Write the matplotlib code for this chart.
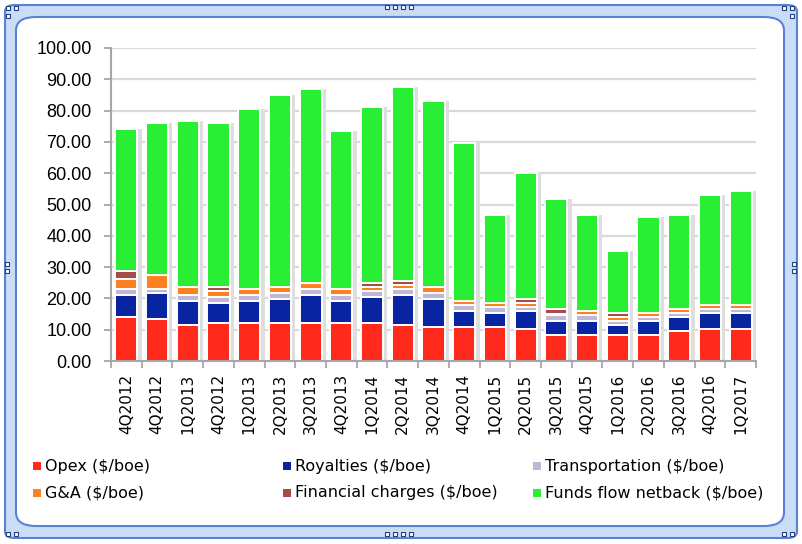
import matplotlib
matplotlib.use("Agg")
import matplotlib.pyplot as plt
from matplotlib.patches import FancyBboxPatch, Rectangle
import numpy as np

labels = ['4Q2012', '4Q2012', '1Q2013', '4Q2012', '1Q2013', '2Q2013', '3Q2013', '4Q2013',
          '1Q2014', '2Q2014', '3Q2014', '4Q2014', '1Q2015', '2Q2015', '3Q2015', '4Q2015',
          '1Q2016', '2Q2016', '3Q2016', '4Q2016', '1Q2017']

opex = [14.2, 13.5, 11.6, 12.2, 12.2, 12.2, 12.2, 12.2, 12.2, 11.6, 11.0, 11.0, 11.0, 10.3,
        8.4, 8.4, 8.4, 8.4, 9.7, 10.3, 10.3]
royalties = [6.9, 8.2, 7.5, 6.3, 7.0, 7.6, 8.9, 7.0, 8.2, 9.5, 8.8, 5.0, 4.3, 5.7,
             4.4, 4.4, 3.1, 4.4, 4.4, 5.0, 5.0]
transport = [1.9, 1.3, 1.9, 1.9, 1.9, 1.9, 1.9, 1.9, 2.0, 1.9, 1.9, 1.9, 2.0, 1.3,
             1.9, 1.9, 1.3, 1.3, 1.2, 1.3, 1.3]
g_and_a = [3.1, 4.4, 2.5, 2.0, 1.9, 1.9, 1.9, 1.9, 1.2, 1.3, 1.9, 1.3, 1.2, 1.2,
           0.4, 1.3, 1.3, 1.2, 1.3, 1.3, 1.3]
financial = [2.6, 0, 0, 1.2, 0, 0, 0, 0, 1.3, 1.3, 0, 0, 0, 1.3,
             1.5, 0, 1.2, 0, 0, 0, 0]
funds_flow = [45.4, 48.6, 53.2, 52.4, 57.5, 61.4, 62.0, 50.4, 56.2, 61.9, 59.5, 50.4, 28.1, 40.2,
              35.1, 30.6, 19.8, 30.7, 30.0, 35.1, 36.4]

series_names = ['Opex ($/boe)', 'Royalties ($/boe)', 'Transportation ($/boe)',
                'G&A ($/boe)', 'Financial charges ($/boe)', 'Funds flow netback ($/boe)']
series_colors = ['#ff2a1c', '#0824a0', '#c2b6d6', '#ff8020', '#a84c4a', '#28ee34']

W, H = 802, 544
fig = plt.figure(figsize=(W / 100, H / 100), dpi=100)

# frame
def fx(px):
    return px / W

def fy(py):
    return 1 - py / H

outer = FancyBboxPatch((fx(5), fy(538)), fx(792), 533 / H,
                       boxstyle="round,pad=0,rounding_size=0.012",
                       transform=fig.transFigure, facecolor='#c9ddf6',
                       edgecolor='#5b80d4', linewidth=1.5, zorder=0)
fig.patches.append(outer)
inner = FancyBboxPatch((fx(16), fy(526)), fx(768), 509 / H,
                       boxstyle="round,pad=0,rounding_size=0.025",
                       transform=fig.transFigure, facecolor='white',
                       edgecolor='#5b80d4', linewidth=1.5, zorder=0.5)
fig.patches.append(inner)

# small handles
def handle(px, py, s=5):
    fig.patches.append(Rectangle((fx(px), fy(py + s)), s / W, s / H, transform=fig.transFigure,
                                 facecolor='white', edgecolor='#1f3f7a', linewidth=0.8, zorder=1))

for hx in (385, 393, 401, 409):
    handle(hx, 5, 4)
    handle(hx, 532, 4)
for hy in (262, 269):
    handle(5, hy, 4)
    handle(792, hy, 4)
for (cx, cy) in [(6, 6), (14, 6), (6, 14), (790, 6), (782, 6), (790, 14),
                 (6, 532), (14, 532), (790, 532), (782, 532)]:
    handle(cx, cy, 4)

ax = fig.add_axes([fx(111), fy(361), (756 - 111) / W, (361 - 48) / H])
ax.set_zorder(2)
ax.patch.set_alpha(0)

x = np.arange(len(labels))
bw = 0.72

data = [opex, royalties, transport, g_and_a, financial, funds_flow]
totals = np.sum(np.array(data), axis=0)

# shadows
ax.bar(x + 0.09, totals + 0.6, width=bw + 0.1, bottom=-0.6, color='#dedede', linewidth=0, zorder=1.5)

bottom = np.zeros(len(labels))
for vals, col, name in zip(data, series_colors, series_names):
    v = np.array(vals, dtype=float)
    ax.bar(x, v, width=bw, bottom=bottom, color=col, edgecolor='white', linewidth=1.4,
           zorder=3, label=name)
    bottom = bottom + v

ax.set_xlim(-0.5, len(labels) - 0.5)
ax.set_ylim(0, 100)
ax.set_yticks(np.arange(0, 101, 10))
ax.set_yticklabels([f'{v:.2f}' for v in np.arange(0, 101, 10)],
                   fontfamily='Liberation Sans', fontsize=13)
ax.yaxis.grid(True, color='#d9d9d9', linewidth=1.6, zorder=0)
ax.set_axisbelow(True)

ax.set_xticks(x)
ax.set_xticklabels(labels, rotation=90, fontfamily='DejaVu Sans', fontsize=11)
ax.set_xticks(np.arange(-0.5, len(labels), 1), minor=True)
ax.tick_params(axis='x', which='major', length=0, pad=9)
ax.tick_params(axis='x', which='minor', length=5, width=1.3, color='#a6a6a6', direction='out')
ax.tick_params(axis='y', length=5, width=1.3, color='#a6a6a6', direction='out', pad=9)

for s in ('top', 'right'):
    ax.spines[s].set_visible(False)
for s in ('left', 'bottom'):
    ax.spines[s].set_color('#a6a6a6')
    ax.spines[s].set_linewidth(1.5)
    ax.spines[s].set_zorder(4)

# legend (row-wise layout)
legend_pos = [(33, 466), (283, 466), (533, 466), (33, 493), (283, 493), (533, 493)]
for (lx, ly), col, name in zip(legend_pos, series_colors, series_names):
    fig.patches.append(Rectangle((fx(lx), fy(ly + 4)), 8 / W, 8 / H, transform=fig.transFigure,
                                 facecolor=col, edgecolor='none', zorder=3))
    fig.text(fx(lx + 12), fy(ly), name, fontsize=11.5, fontfamily='DejaVu Sans',
             va='center', ha='left', zorder=3)

fig.savefig('out.png', dpi=100)
